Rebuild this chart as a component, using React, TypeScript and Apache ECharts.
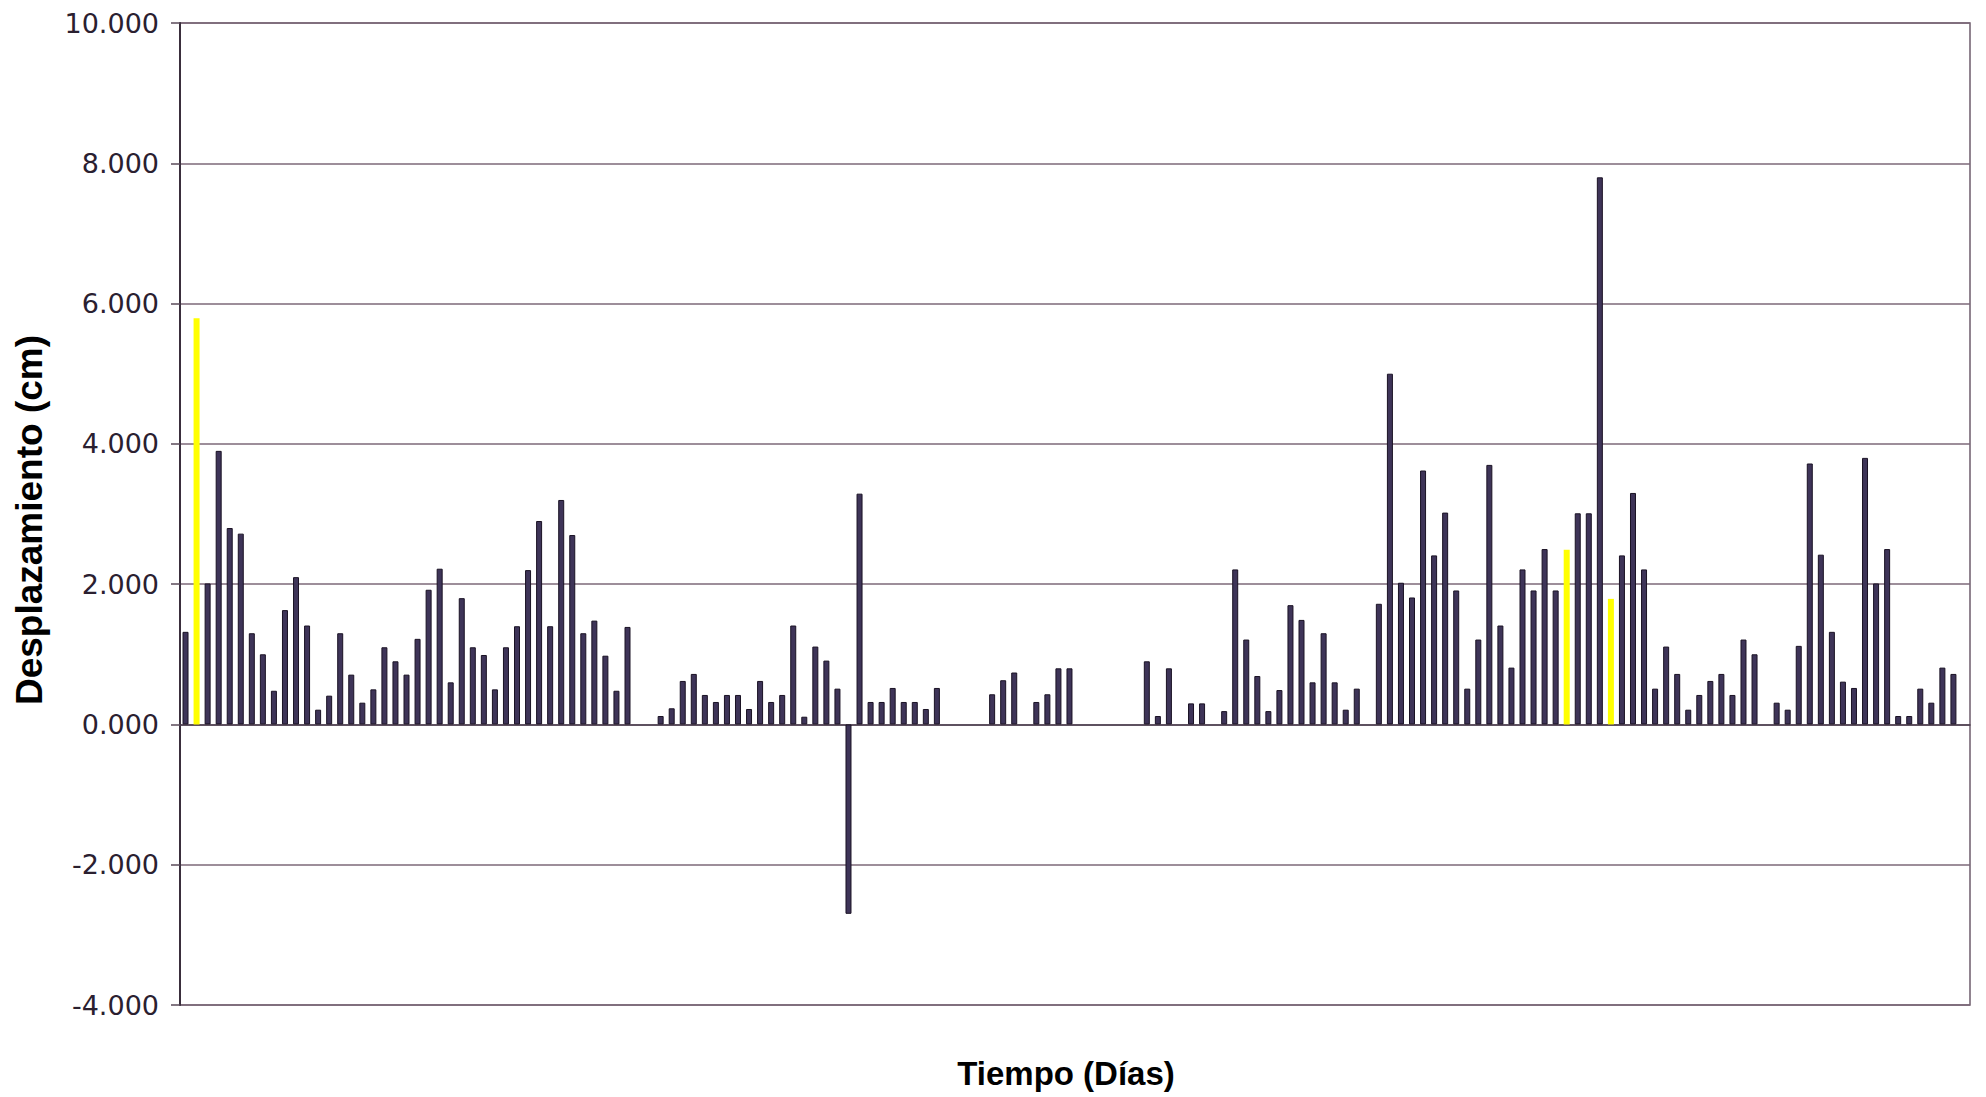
import React, { useEffect, useRef } from "react";
import * as echarts from "echarts";

// Displacement per day (cm); null = no reading that day
const displacement: (number | null)[] = [
  1.32, 5.79, 2.01, 3.9, 2.8, 2.72, 1.3, 1.0, 0.48, 1.63,
  2.1, 1.41, 0.21, 0.41, 1.3, 0.71, 0.31, 0.5, 1.1, 0.9,
  0.71, 1.22, 1.92, 2.22, 0.6, 1.8, 1.1, 0.99, 0.5, 1.1,
  1.4, 2.2, 2.9, 1.4, 3.2, 2.7, 1.3, 1.48, 0.98, 0.48,
  1.39, null, null, 0.12, 0.23, 0.62, 0.72, 0.42, 0.32, 0.42,
  0.42, 0.22, 0.62, 0.32, 0.42, 1.41, 0.11, 1.11, 0.91, 0.51,
  -2.7, 3.29, 0.32, 0.32, 0.52, 0.32, 0.32, 0.22, 0.52, null,
  null, null, null, 0.43, 0.63, 0.74, null, 0.32, 0.43, 0.8,
  0.8, null, null, null, null, null, null, 0.9, 0.12, 0.8,
  null, 0.3, 0.3, null, 0.19, 2.21, 1.21, 0.69, 0.19, 0.49,
  1.7, 1.49, 0.6, 1.3, 0.6, 0.21, 0.51, null, 1.72, 5.0,
  2.02, 1.81, 3.62, 2.41, 3.02, 1.91, 0.51, 1.21, 3.7, 1.41,
  0.81, 2.21, 1.91, 2.5, 1.91, 2.49, 3.01, 3.01, 7.8, 1.79,
  2.41, 3.3, 2.21, 0.51, 1.11, 0.72, 0.21, 0.42, 0.62, 0.72,
  0.42, 1.21, 1.0, null, 0.31, 0.21, 1.12, 3.72, 2.42, 1.32,
  0.61, 0.52, 3.8, 2.01, 2.5, 0.12, 0.12, 0.51, 0.31, 0.81,
  0.72, null,
];

// Days highlighted in yellow (0-based index into displacement)
const highlightedDays: number[] = [1, 125, 129];

const days: string[] = displacement.map((_, i) => String(i + 1));

const yTicks = { min: -4, max: 10, interval: 2 };

const App: React.FC = () => {
  const ref = useRef<HTMLDivElement>(null);

  useEffect(() => {
    if (!ref.current) return;
    const chart = echarts.init(ref.current, undefined, { renderer: "svg" });

    const data = displacement.map((v, i) =>
      highlightedDays.includes(i)
        ? { value: v, itemStyle: { color: "#ffff00", borderWidth: 0 } }
        : { value: v }
    );

    chart.setOption({
      animation: false,
      backgroundColor: "#ffffff",
      grid: {
        left: 180,
        right: 16,
        top: 23,
        bottom: 92,
        show: true,
        borderColor: "#6e5c6c",
        borderWidth: 1.5,
        backgroundColor: "transparent",
      },
      xAxis: {
        type: "category",
        data: days,
        boundaryGap: true,
        axisLine: { onZero: true, lineStyle: { color: "#4a3c4c", width: 1.5 } },
        axisTick: { show: false },
        axisLabel: { show: false },
        splitLine: { show: false },
      },
      yAxis: {
        type: "value",
        min: yTicks.min,
        max: yTicks.max,
        interval: yTicks.interval,
        axisLine: { show: true, onZero: false, lineStyle: { color: "#3a2e3c", width: 2 } },
        axisTick: { show: true, inside: false, length: 9, lineStyle: { color: "#5a4a58", width: 1.5 } },
        axisLabel: {
          margin: 21,
          formatter: (v: number) => v.toFixed(3),
          fontFamily: "DejaVu Sans",
          fontSize: 27,
          color: "#2a2030",
        },
        splitLine: { show: true, lineStyle: { color: "#7d6878", width: 1.5 } },
      },
      series: [
        {
          type: "bar",
          data,
          barWidth: 6,
          itemStyle: {
            color: "#3e3458",
            borderColor: "#1a1224",
            borderWidth: 1,
          },
        },
      ],
      graphic: [
        {
          type: "text",
          x: 29,
          y: 520,
          rotation: Math.PI / 2,
          style: {
            text: "Desplazamiento (cm)",
            font: "bold 37px 'Liberation Sans', Arial, sans-serif",
            fill: "#000000",
            textAlign: "center",
            textVerticalAlign: "middle",
          },
        },
        {
          type: "text",
          x: 1066,
          y: 1073,
          style: {
            text: "Tiempo (Días)",
            font: "bold 33px 'Liberation Sans', Arial, sans-serif",
            fill: "#000000",
            textAlign: "center",
            textVerticalAlign: "middle",
          },
        },
      ],
    });

    return () => chart.dispose();
  }, []);

  return (
    <div
      ref={ref}
      style={{ position: "fixed", left: 0, top: 0, width: 1986, height: 1097, background: "#fff" }}
    />
  );
};

export default App;
